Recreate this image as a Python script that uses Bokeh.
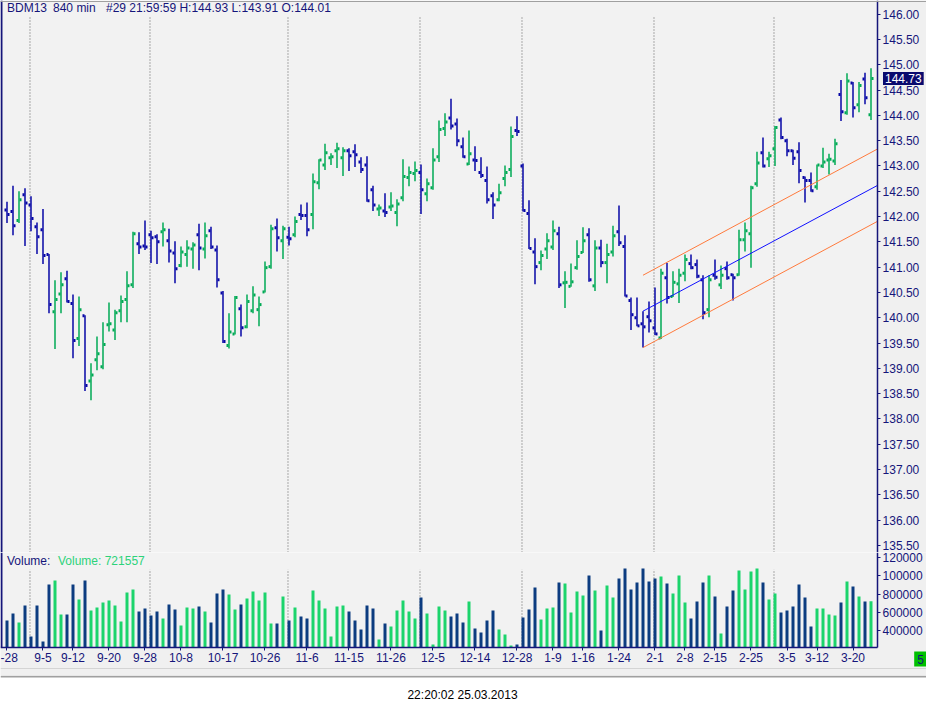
from bokeh.plotting import figure
from bokeh.layouts import column
from bokeh.models import (ColumnDataSource, Range1d, FixedTicker, Label, Span, LinearAxis,
                          PrintfTickFormatter, BoxAnnotation)
from bokeh.embed import file_html
from bokeh.resources import INLINE

# BDM13, 840 min bars (bar 0 = 8-28 ... bar 144 = 3-25)
opens = [142.13, 142.10, 141.92, 142.43, 142.23, 141.80, 141.74, 141.25, 140.12, 140.47,
         140.77, 140.28, 139.59, 140.04, 138.75, 139.17, 139.03, 139.86, 139.76, 140.14,
         140.36, 140.65, 141.46, 141.42, 141.64, 141.60, 141.70, 141.52, 141.28, 141.03,
         141.25, 141.36, 141.64, 141.36, 141.72, 141.34, 140.49, 139.45, 139.68, 140.18,
         139.82, 140.14, 140.16, 140.51, 141.01, 141.78, 141.52, 141.59, 141.64, 142.04,
         142.02, 142.04, 142.67, 143.02, 143.16, 143.30, 143.16, 143.30, 143.28, 143.08,
         143.02, 142.53, 142.15, 142.11, 142.19, 142.08, 142.37, 142.77, 142.85, 142.87,
         142.45, 142.57, 143.18, 143.74, 143.95, 143.83, 143.38, 143.04, 143.12, 142.87,
         142.71, 142.41, 142.33, 142.75, 142.93, 143.70, 143.00, 142.06, 141.30, 141.09,
         141.36, 141.40, 141.66, 140.69, 140.62, 140.99, 141.29, 141.64, 140.63, 141.38,
         141.09, 141.30, 141.70, 141.41, 140.34, 140.00, 139.88, 140.02, 139.80, 139.60,
         140.79, 140.42, 140.67, 140.88, 141.07, 141.05, 140.75, 140.16, 140.84, 140.65,
         140.97, 140.85, 140.85, 141.54, 141.66, 142.65, 143.26, 143.14, 143.34, 143.91,
         143.50, 143.30, 143.28, 142.77, 142.71, 142.59, 143.00, 143.12, 143.10, 144.41,
         144.05, 144.64, 144.21, 144.72, 144.01]
highs = [142.29, 142.61, 142.50, 142.56, 142.40, 141.88, 142.15, 141.26, 140.74, 140.90,
         140.93, 140.46, 140.42, 140.05, 139.10, 139.63, 139.91, 140.30, 140.16, 140.44,
         140.92, 141.70, 141.69, 141.92, 141.72, 141.65, 141.88, 141.76, 141.51, 141.41,
         141.53, 141.49, 141.86, 141.88, 141.80, 141.43, 140.53, 140.09, 140.43, 140.26,
         140.46, 140.62, 140.42, 141.11, 141.84, 141.96, 141.82, 141.80, 142.00, 142.24,
         142.28, 142.85, 143.13, 143.44, 143.25, 143.46, 143.37, 143.35, 143.43, 143.17,
         143.19, 142.61, 142.24, 142.46, 142.48, 142.34, 143.13, 142.99, 143.09, 143.03,
         142.75, 143.35, 143.90, 144.04, 144.33, 143.94, 143.56, 143.70, 143.39, 143.17,
         142.99, 142.48, 142.65, 143.01, 143.78, 143.98, 143.05, 142.32, 141.57, 141.33,
         141.67, 141.92, 141.80, 140.92, 141.07, 141.53, 141.79, 141.77, 141.53, 141.54,
         141.46, 141.82, 142.22, 141.63, 140.40, 140.40, 140.13, 140.32, 140.60, 140.97,
         141.08, 140.92, 140.97, 141.25, 141.25, 141.15, 140.84, 140.84, 141.15, 141.03,
         141.11, 140.87, 141.74, 141.88, 142.61, 143.28, 143.56, 143.28, 143.79, 143.96,
         143.54, 143.32, 143.47, 142.79, 142.87, 143.03, 143.36, 143.24, 143.54, 144.70,
         144.83, 144.66, 144.66, 144.84, 144.93]
lows = [141.87, 141.63, 141.87, 141.42, 141.71, 141.26, 141.06, 140.09, 139.38, 140.09,
        140.30, 139.20, 139.44, 138.55, 138.37, 138.96, 138.98, 139.73, 139.56, 139.91,
        139.91, 140.59, 141.26, 141.34, 141.08, 141.06, 141.41, 141.09, 140.68, 141.00,
        141.01, 140.97, 140.94, 141.17, 141.36, 140.60, 139.50, 139.39, 139.67, 139.63,
        139.79, 140.09, 139.83, 140.50, 140.97, 141.31, 141.16, 141.43, 141.59, 141.93,
        141.61, 141.75, 142.54, 142.92, 143.02, 142.96, 142.80, 142.90, 142.98, 142.86,
        142.29, 142.11, 142.01, 141.99, 142.11, 141.81, 142.30, 142.60, 142.70, 142.05,
        142.30, 142.53, 143.08, 143.59, 143.72, 143.39, 143.16, 143.02, 142.90, 142.76,
        142.26, 141.95, 142.30, 142.60, 142.78, 143.59, 142.10, 141.36, 140.66, 140.94,
        141.16, 141.34, 140.59, 140.19, 140.61, 140.95, 141.28, 140.71, 140.53, 141.00,
        140.68, 141.21, 141.42, 140.42, 139.76, 139.83, 139.41, 139.71, 139.66, 139.58,
        140.28, 140.41, 140.29, 140.72, 140.96, 140.78, 139.97, 140.01, 140.75, 140.57,
        140.75, 140.34, 140.83, 141.31, 140.99, 142.59, 142.97, 142.98, 143.00, 143.53,
        143.19, 143.02, 142.66, 142.28, 142.49, 142.53, 142.96, 142.83, 143.02, 143.89,
        144.01, 143.96, 144.06, 144.22, 143.91]
closes = [142.04, 141.82, 142.33, 142.27, 141.96, 141.60, 141.23, 140.26, 140.36, 140.65,
          140.32, 139.55, 140.16, 138.66, 138.87, 139.29, 139.47, 139.88, 140.10, 140.32,
          140.63, 141.66, 141.40, 141.40, 141.58, 141.50, 141.74, 141.32, 140.97, 141.30,
          141.38, 141.44, 141.38, 141.62, 141.40, 140.75, 139.53, 139.72, 140.40, 139.80,
          140.32, 140.45, 140.26, 140.99, 141.76, 141.58, 141.76, 141.56, 141.90, 142.02,
          141.74, 142.69, 143.12, 143.26, 143.18, 143.34, 143.30, 143.20, 143.22, 142.93,
          142.31, 142.23, 142.17, 142.08, 142.21, 142.25, 142.79, 142.87, 142.91, 142.53,
          142.65, 143.12, 143.72, 143.87, 143.79, 143.50, 143.18, 143.24, 143.11, 142.81,
          142.33, 142.23, 142.47, 142.87, 143.58, 143.68, 142.12, 141.37, 141.01, 141.23,
          141.52, 141.72, 140.65, 140.70, 140.71, 141.21, 141.52, 140.75, 141.38, 141.09,
          141.25, 141.62, 141.48, 140.43, 140.06, 139.84, 139.82, 139.94, 139.68, 140.88,
          140.40, 140.70, 140.84, 141.15, 140.99, 140.82, 140.10, 140.75, 140.80, 140.84,
          140.79, 140.79, 141.54, 141.72, 142.57, 143.06, 143.00, 143.20, 143.76, 143.56,
          143.30, 143.15, 142.91, 142.71, 142.51, 143.02, 143.08, 143.13, 143.44, 144.07,
          144.68, 144.15, 144.59, 144.35, 144.73]
volumes = [512600, 589000, 490800, 676300, 338000, 676300, 283500, 905400, 949000, 578100,
           578100, 905400, 741700, 949000, 621700, 654500, 709000, 730800, 676300, 501700,
           818100, 850800, 610800, 643500, 567200, 610800, 534400, 687200, 632600, 458100,
           654500, 643500, 665400, 610800, 490800, 807200, 850800, 796300, 632600, 687200,
           752600, 829000, 730800, 818100, 479900, 479900, 774500, 512600, 654500, 556300,
           534400, 839900, 730800, 643500, 338000, 665400, 676300, 610800, 512600, 414400,
           676300, 643500, 305300, 479900, 447100, 621700, 730800, 610800, 534400, 763600,
           589000, 250700, 665400, 621700, 556300, 589000, 490800, 719900, 425300, 381700,
           512600, 621700, 414400, 359900, 239800, 250700, 545300, 632600, 872700, 523500,
           643500, 654500, 927200, 916300, 600000, 829000, 785400, 1003600, 839900, 403500,
           894500, 763600, 970900, 1080000, 850800, 927200, 1080000, 938100, 970900, 992700,
           916300, 807200, 1003600, 709000, 534400, 719900, 927200, 1003600, 774500, 370800,
           665400, 839900, 1058200, 850800, 1047200, 1080000, 927200, 741700, 807200, 600000,
           621700, 665400, 905400, 763600, 447100, 643500, 643500, 578100, 567200, 709000,
           938100, 883600, 774500, 719900, 721557]

tick_index = [0, 6, 11, 17, 23, 29, 36, 43, 50, 57, 64, 71, 78, 85, 91, 96, 102, 108,
              113, 118, 124, 130, 135, 141]
tick_dates = ["-28", "9-5", "9-12", "9-20", "9-28", "10-8", "10-17", "10-26", "11-6",
              "11-15", "11-26", "12-5", "12-14", "12-28", "1-9", "1-16", "1-24", "2-1",
              "2-8", "2-15", "2-25", "3-5", "3-12", "3-20"]
month_starts = [4, 24, 47, 69, 86, 108, 128]

price_ticks = [135.5, 136.0, 136.5, 137.0, 137.5, 138.0, 138.5, 139.0, 139.5, 140.0, 140.5,
               141.0, 141.5, 142.0, 142.5, 143.0, 143.5, 144.0, 144.5, 145.0, 145.5, 146.0]
volume_ticks = [400000, 600000, 800000, 1000000, 1200000]
volume_tick_labels = ["400000", "600000", "800000", "100000", "120000"]

# regression channel
chan_x = [106, 145]
chan_mid = [140.13, 142.61]
chan_up = [140.84, 143.33]
chan_lo = [139.41, 141.90]

last_price = 144.73

NAVY = "#15157a"
BAR_UP = "#00aa55"
BAR_DOWN = "#0606a6"
VOL_UP = "#1cd46c"
VOL_DOWN = "#0c3c80"
FONT = "Liberation Sans"

AXIS_X = 145.1       # where the price / volume scale sits (bar units)
VOL_BASE = 218000    # volume scale floor

idx = list(range(len(closes)))
up = [c >= o for o, c in zip(opens, closes)]
src = ColumnDataSource(dict(
    x=idx, o=opens, h=highs, l=lows, c=closes, v=volumes,
    xo=[i - 0.25 for i in idx], xc=[i + 0.25 for i in idx],
    bar_color=[BAR_UP if u else BAR_DOWN for u in up],
    vol_color=[VOL_UP if u else VOL_DOWN for u in up],
))
sep_x = [m - 1 / 6 for m in month_starts]

# 6 px per bar
x_range = Range1d(-1.0833, 153.25)


def style_axis(ax):
    ax.axis_line_color = NAVY
    ax.axis_line_width = 1.5
    ax.major_tick_line_color = NAVY
    ax.major_tick_in = 0
    ax.major_tick_out = 3
    ax.minor_tick_line_color = None
    ax.major_label_text_color = NAVY
    ax.major_label_text_font = FONT
    ax.major_label_text_font_size = "12px"
    ax.major_label_standoff = 2


def base(fig):
    fig.grid.grid_line_color = None
    fig.background_fill_color = "#f2f2f2"
    fig.border_fill_color = "#f0f0f0"
    fig.outline_line_color = None
    fig.min_border = 0


# price panel
p = figure(frame_width=926, frame_height=552, x_range=x_range, y_range=Range1d(135.36, 146.27),
           x_axis_location=None, y_axis_location=None, toolbar_location=None,
           output_backend="svg")
base(p)
p.add_layout(BoxAnnotation(left=AXIS_X, fill_color="#f0f0f0", fill_alpha=1, line_color=None,
                           level="underlay"))
p.add_layout(Span(location=-0.92, dimension="height", line_color=NAVY, line_width=2))
p.add_layout(Span(location=146.25, dimension="width", line_color="#a0a0a0", line_width=1))
ay = LinearAxis(fixed_location=AXIS_X, ticker=FixedTicker(ticks=price_ticks),
                formatter=PrintfTickFormatter(format="%.2f"))
style_axis(ay)
p.add_layout(ay, "right")

p.segment(x0=sep_x, y0=135.36, x1=sep_x, y1=145.97, line_color="#606060",
          line_dash="1 2", line_width=1)

p.segment(x0="x", y0="l", x1="x", y1="h", source=src, line_color="bar_color", line_width=1.5)
p.rect(x="xo", y="o", width=1 / 3, height=3, height_units="screen", source=src,
       fill_color="bar_color", line_color=None)
p.rect(x="xc", y="c", width=1 / 3, height=3, height_units="screen", source=src,
       fill_color="bar_color", line_color=None)

p.line(chan_x, chan_mid, line_color="#1010ff", line_width=1)
p.line(chan_x, chan_up, line_color="#ff7a3c", line_width=1)
p.line(chan_x, chan_lo, line_color="#ff7a3c", line_width=1)

for x, txt in [(0, "BDM13"), (7.67, "840 min"), (16.5, "#29 21:59:59 H:144.93 L:143.91 O:144.01")]:
    p.add_layout(Label(x=x, y=146.13, text=txt, text_font=FONT, text_font_size="12px",
                       text_color=NAVY, text_baseline="middle"))

p.add_layout(Label(x=146.0, y=last_price, text="%.2f" % last_price, text_font=FONT,
                   text_font_size="12px", text_color="white", text_baseline="middle",
                   background_fill_color="#0a0a6e", padding=2))

# volume panel (frame runs down to the window edge, scales sit at fixed spots)
pv = figure(frame_width=926, frame_height=123, x_range=x_range, y_range=Range1d(-87500, 1254600),
            x_axis_location=None, y_axis_location=None, toolbar_location=None,
            output_backend="svg")
base(pv)
pv.add_layout(BoxAnnotation(left=AXIS_X, fill_color="#f0f0f0", fill_alpha=1, line_color=None,
                            level="underlay"))
pv.add_layout(BoxAnnotation(top=VOL_BASE, fill_color="#f0f0f0", fill_alpha=1, line_color=None,
                            level="underlay"))
pv.add_layout(Span(location=-11100, dimension="width", line_color="#d4d4d4", line_width=1))
pv.segment(x0=-0.92, y0=VOL_BASE, x1=-0.92, y1=1254600, line_color=NAVY, line_width=2)

avx = LinearAxis(fixed_location=VOL_BASE, bounds=(-1.0833, AXIS_X),
                 ticker=FixedTicker(ticks=tick_index),
                 major_label_overrides=dict(zip(tick_index, tick_dates)))
style_axis(avx)
pv.add_layout(avx, "below")
avy = LinearAxis(fixed_location=AXIS_X, bounds=(VOL_BASE, 1254600),
                 ticker=FixedTicker(ticks=volume_ticks),
                 major_label_overrides=dict(zip(volume_ticks, volume_tick_labels)))
style_axis(avy)
pv.add_layout(avy, "right")

pv.segment(x0=sep_x, y0=VOL_BASE, x1=sep_x, y1=1070000, line_color="#606060",
           line_dash="1 2", line_width=1)
pv.vbar(x="x", top="v", bottom=VOL_BASE, width=0.5, source=src, fill_color="vol_color",
        line_color=None)

pv.add_layout(Label(x=0, y=1167000, text="Volume:", text_font=FONT, text_font_size="12px",
                    text_color=NAVY, text_baseline="middle"))
pv.add_layout(Label(x=8.5, y=1167000, text="Volume: %d" % volumes[-1], text_font=FONT,
                    text_font_size="12px", text_color="#2dd27a", text_baseline="middle"))
pv.add_layout(Label(x=151.2, y=92500, text="5", text_font=FONT, text_font_size="12px",
                    text_color=NAVY, text_baseline="middle", background_fill_color="#00c000",
                    padding=3))

# status line under the chart window
pt = figure(frame_width=926, frame_height=26, x_range=Range1d(0, 926), y_range=Range1d(0, 26),
            x_axis_location=None, y_axis_location=None, toolbar_location=None,
            output_backend="svg")
pt.min_border = 0
pt.grid.grid_line_color = None
pt.outline_line_color = None
pt.background_fill_color = "white"
pt.border_fill_color = "white"
pt.line([0, 926], [25, 25], line_color="#a0a0a0", line_width=2)
pt.add_layout(Label(x=462, y=7, text="22:20:02 25.03.2013", text_font=FONT,
                    text_font_size="12px", text_color="black", text_align="center",
                    text_baseline="middle"))

layout = column(p, pv, pt, spacing=0)
open("out.html", "w").write(file_html(layout, INLINE))
